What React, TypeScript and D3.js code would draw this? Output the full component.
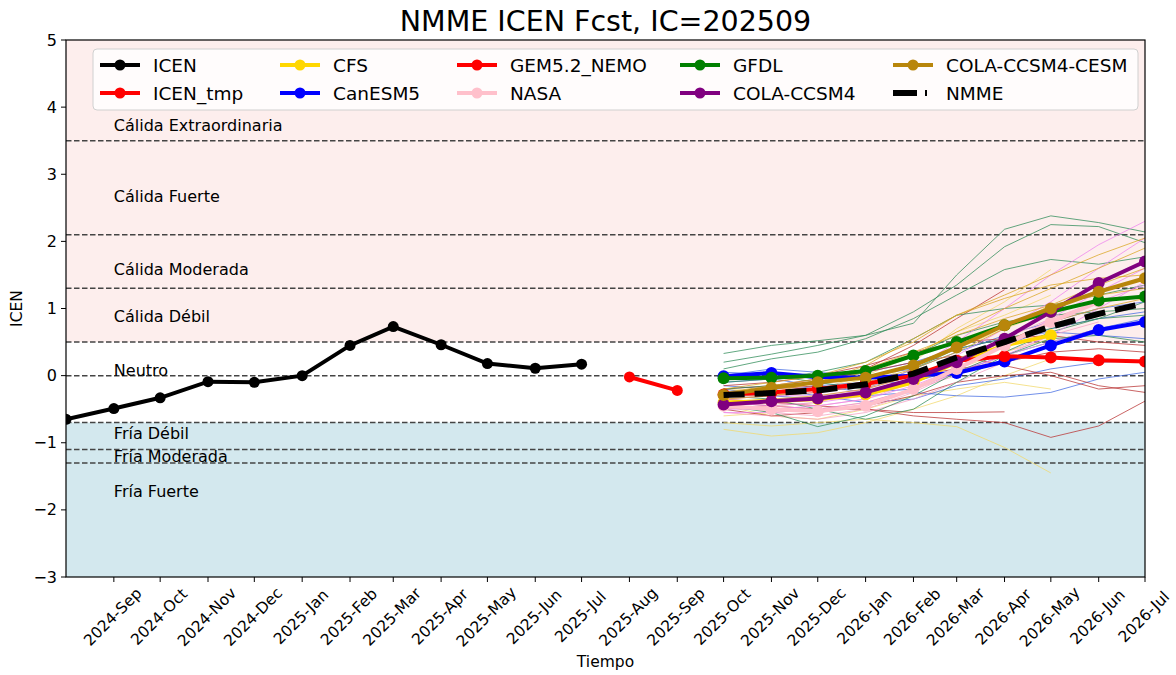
import { FC, useEffect, useRef } from 'react';
import * as d3 from 'd3';

// observed ICEN
const obsMonths = ['2024-08', '2024-09', '2024-10', '2024-11', '2024-12', '2025-01', '2025-02', '2025-03', '2025-04', '2025-05', '2025-06', '2025-07'];
const icenObs = [-0.65, -0.49, -0.33, -0.09, -0.1, 0.0, 0.45, 0.73, 0.46, 0.18, 0.11, 0.17];
const tmpMonths = ['2025-08', '2025-09'];
const icenTmp = [-0.02, -0.22];

// forecast months (IC = 2025-09)
const fcstMonths = ['2025-10', '2025-11', '2025-12', '2026-01', '2026-02', '2026-03', '2026-04', '2026-05', '2026-06', '2026-07'];

// model means
const cfsMean = [-0.4, -0.38, -0.35, -0.28, -0.1, 0.2, 0.45, 0.6];
const canMean = [-0.01, 0.04, -0.02, -0.03, 0.0, 0.04, 0.21, 0.45, 0.68, 0.8];
const gemMean = [-0.28, -0.25, -0.2, -0.12, 0.0, 0.22, 0.29, 0.27, 0.23, 0.21];
const nasaMean = [-0.45, -0.5, -0.53, -0.45, -0.2, 0.1, 0.45, 0.8, 1.1];
const gfdlMean = [-0.04, -0.03, 0.0, 0.07, 0.3, 0.5, 0.75, 0.95, 1.12, 1.18];
const ccsm4Mean = [-0.43, -0.38, -0.34, -0.25, -0.05, 0.2, 0.55, 0.95, 1.38, 1.7];
const cesmMean = [-0.29, -0.18, -0.1, -0.03, 0.15, 0.42, 0.75, 1.0, 1.25, 1.45];
const nmmeMean = [-0.29, -0.26, -0.22, -0.13, 0.03, 0.27, 0.5, 0.73, 0.92, 1.08];

// ensemble members
const cfsMembers = [
  [-0.7, -0.75, -0.7, -0.65, -0.7, -0.76, -1.07, -1.45],
  [-0.8, -0.9, -0.85, -0.7, -0.5, -0.3, 0.0, 0.25],
  [-0.5, -0.45, -0.4, -0.2, 0.2, 0.7, 1.1, 1.58],
  [-0.35, -0.3, -0.2, 0.0, 0.3, 0.65, 0.9, 1.2],
  [-0.6, -0.55, -0.5, -0.4, -0.2, 0.1, 0.35, 0.55],
  [-0.45, -0.6, -0.65, -0.5, -0.3, -0.2, -0.1, -0.2],
  [-0.2, -0.25, -0.2, -0.05, 0.15, 0.4, 0.7, 0.95],
];
const canMembers = [
  [0.0, 0.1, 0.05, 0.0, 0.1, 0.35, 0.6, 0.8, 1.0, 1.1],
  [-0.1, -0.05, -0.15, -0.25, -0.2, 0.05, 0.3, 0.5, 0.7, 0.85],
  [-0.2, -0.3, -0.35, -0.3, -0.25, -0.3, -0.32, -0.25, -0.05, 0.05],
  [0.05, 0.02, -0.05, 0.05, 0.2, 0.4, 0.55, 0.65, 0.6, 0.55],
  [-0.15, -0.2, -0.3, -0.4, -0.35, -0.15, -0.05, 0.1, 0.2, 0.22],
  [-0.3, -0.25, -0.15, -0.1, -0.1, 0.1, 0.45, 0.7, 0.85, 0.95],
];
const gemMembers = [
  [-0.35, -0.4, -0.45, -0.5, -0.6, -0.65, -0.7, -0.92, -0.75, -0.38],
  [-0.25, -0.2, -0.15, 0.1, 0.45, 0.85, 1.28],
  [-0.4, -0.45, -0.5, -0.5, -0.55, -0.55, -0.54],
  [-0.2, -0.15, -0.05, 0.05, 0.2, 0.3, 0.15, 0.0, -0.2, -0.15],
  [-0.3, -0.3, -0.25, -0.15, 0.0, 0.1, 0.2, 0.35, 0.4, 0.35],
  [-0.5, -0.6, -0.55, -0.45, -0.3, -0.1, 0.0, 0.05, -0.15, -0.25],
  [-0.15, -0.1, 0.0, 0.15, 0.35, 0.5, 0.55, 0.6, 0.5, 0.45],
];
const nasaMembers = [
  [-0.4, -0.55, -0.6, -0.5, -0.25, 0.05, 0.35, 0.6, 0.8],
  [-0.55, -0.6, -0.65, -0.55, -0.35, -0.1, 0.2, 0.45, 0.65],
  [-0.35, -0.4, -0.45, -0.35, -0.1, 0.2, 0.55, 0.85, 1.1],
  [-0.5, -0.45, -0.5, -0.45, -0.2, 0.0, 0.3, 0.5, 0.7],
];
const gfdlMembers = [
  [0.33, 0.45, 0.52, 0.6, 0.78, 1.5, 2.18, 2.38, 2.28, 2.14],
  [0.2, 0.32, 0.45, 0.6, 0.95, 1.35, 1.92, 2.25, 2.22, 1.98],
  [0.1, 0.25, 0.35, 0.55, 0.85, 1.2, 1.58, 1.73, 1.66, 1.77],
  [-0.1, -0.05, 0.05, 0.2, 0.55, 0.9, 1.0, 1.05, 1.2, 1.35],
  [-0.2, -0.15, -0.1, 0.05, 0.3, 0.6, 0.8, 0.9, 0.95, 1.0],
  [-0.3, -0.35, -0.5, -0.65, -0.5, -0.1, 0.3, 0.55, 0.6, 0.5],
  [-0.05, 0.0, -0.1, -0.2, 0.1, 0.4, 0.55, 0.7, 0.85, 0.9],
  [-0.45, -0.55, -0.76, -0.6, -0.3, 0.05, 0.35, 0.65, 0.85, 1.1],
];
const ccsm4Members = [
  [-0.45, -0.4, -0.35, -0.2, 0.1, 0.5, 1.0, 1.5, 1.95, 2.3],
  [-0.4, -0.45, -0.4, -0.3, -0.05, 0.3, 0.7, 1.1, 1.6, 2.05],
  [-0.5, -0.5, -0.45, -0.35, -0.15, 0.1, 0.45, 0.85, 1.25, 1.6],
  [-0.35, -0.3, -0.3, -0.2, 0.0, 0.25, 0.5, 0.8, 1.1, 1.35],
  [-0.55, -0.55, -0.5, -0.4, -0.2, 0.05, 0.3, 0.6, 1.0, 1.4],
];
const cesmMembers = [
  [-0.2, -0.1, 0.0, 0.2, 0.5, 0.9, 1.2, 1.5, 1.8, 2.05],
  [-0.3, -0.2, -0.1, 0.05, 0.3, 0.65, 1.0, 1.3, 1.6, 1.9],
  [-0.35, -0.3, -0.2, -0.1, 0.1, 0.35, 0.7, 1.05, 1.35, 1.6],
  [-0.25, -0.15, -0.05, 0.1, 0.35, 0.6, 0.85, 1.05, 1.2, 1.3],
  [-0.4, -0.35, -0.3, -0.2, 0.0, 0.25, 0.5, 0.8, 1.0, 1.15],
  [-0.3, -0.25, -0.1, 0.15, 0.55, 0.9, 1.15, 1.35, 1.45, 1.5],
];

// category thresholds and labels
const thresholds = [3.5, 2.1, 1.3, 0.5, 0, -0.7, -1.1, -1.3];
const categoryLabels = ['Cálida Extraordinaria', 'Cálida Fuerte', 'Cálida Moderada', 'Cálida Débil', 'Neutro', 'Fría Débil', 'Fría Moderada', 'Fría Fuerte'];
const categoryLabelY = [3.73, 2.67, 1.58, 0.88, 0.08, -0.86, -1.21, -1.73];
const yTicks = [-3, -2, -1, 0, 1, 2, 3, 4, 5];

interface Model {
  name: string;
  color: string;
  memberColor: string;
  mean: number[];
  members: number[][];
}

const models: Model[] = [
  { name: 'CFS', color: '#FFD700', memberColor: '#f2d86a', mean: cfsMean, members: cfsMembers },
  { name: 'CanESM5', color: '#0000FF', memberColor: '#4169e1', mean: canMean, members: canMembers },
  { name: 'GEM5.2_NEMO', color: '#FF0000', memberColor: '#b83232', mean: gemMean, members: gemMembers },
  { name: 'NASA', color: '#FFC0CB', memberColor: '#f5a0c0', mean: nasaMean, members: nasaMembers },
  { name: 'GFDL', color: '#008000', memberColor: '#2e8b57', mean: gfdlMean, members: gfdlMembers },
  { name: 'COLA-CCSM4', color: '#800080', memberColor: '#ee82ee', mean: ccsm4Mean, members: ccsm4Members },
  { name: 'COLA-CCSM4-CESM', color: '#B8860B', memberColor: '#daa520', mean: cesmMean, members: cesmMembers },
];

const legendItems = [
  { name: 'ICEN', color: 'black' },
  { name: 'ICEN_tmp', color: '#FF0000' },
  { name: 'CFS', color: '#FFD700' },
  { name: 'CanESM5', color: '#0000FF' },
  { name: 'GEM5.2_NEMO', color: '#FF0000' },
  { name: 'NASA', color: '#FFC0CB' },
  { name: 'GFDL', color: '#008000' },
  { name: 'COLA-CCSM4', color: '#800080' },
  { name: 'COLA-CCSM4-CESM', color: '#B8860B' },
  { name: 'NMME', color: 'black' },
];

const parseMonth = d3.timeParse('%Y-%m');

const App: FC = () => {
  const svgRef = useRef<SVGSVGElement>(null);

  useEffect(() => {
    if (!svgRef.current) return;
    document.body.style.margin = '0';

    const margin = { top: 40, right: 31, bottom: 98, left: 66 };
    const W = 1176;
    const H = 675;
    const width = W - margin.left - margin.right;
    const height = H - margin.top - margin.bottom;
    const font = 'DejaVu Sans, sans-serif';

    d3.select(svgRef.current).selectAll('*').remove();
    const root = d3.select(svgRef.current);
    root.append('rect').attr('width', W).attr('height', H).attr('fill', 'white');

    const svg = root.append('g').attr('transform', `translate(${margin.left},${margin.top})`);

    const x = d3
      .scaleTime()
      .domain([parseMonth('2024-08') as Date, parseMonth('2026-07') as Date])
      .range([0, width]);
    const y = d3.scaleLinear().domain([-3, 5]).range([height, 0]);

    svg.append('clipPath').attr('id', 'plotclip')
      .append('rect').attr('width', width).attr('height', height);

    // background bands
    svg.append('rect').attr('x', 0).attr('width', width)
      .attr('y', y(5)).attr('height', y(0.5) - y(5)).attr('fill', '#fdeeed');
    svg.append('rect').attr('x', 0).attr('width', width)
      .attr('y', y(-0.7)).attr('height', y(-3) - y(-0.7)).attr('fill', '#d3e8ee');

    // threshold lines
    svg.selectAll('.thr').data(thresholds).enter().append('line')
      .attr('x1', 0).attr('x2', width)
      .attr('y1', d => y(d)).attr('y2', d => y(d))
      .attr('stroke', '#444').attr('stroke-width', 1.5).attr('stroke-dasharray', '5.5,2.5');

    // category labels
    svg.selectAll('.cat').data(categoryLabels).enter().append('text')
      .attr('x', x(parseMonth('2024-09') as Date))
      .attr('y', (_, i) => y(categoryLabelY[i]))
      .attr('dominant-baseline', 'central')
      .attr('font-family', font).attr('font-size', 16)
      .text(d => d);

    const plot = svg.append('g').attr('clip-path', 'url(#plotclip)');
    const fDates = fcstMonths.map(m => parseMonth(m) as Date);
    const line = d3.line<number>().x((_, i) => x(fDates[i])).y(d => y(d));

    // ensemble members
    models.forEach(m => {
      m.members.forEach(mem => {
        plot.append('path').datum(mem).attr('d', line)
          .attr('fill', 'none').attr('stroke', m.memberColor)
          .attr('stroke-width', 1).attr('stroke-opacity', 0.75);
      });
    });

    // model means
    models.forEach(m => {
      plot.append('path').datum(m.mean).attr('d', line)
        .attr('fill', 'none').attr('stroke', m.color).attr('stroke-width', 4);
      plot.selectAll(null).data(m.mean).enter().append('circle')
        .attr('cx', (_, i) => x(fDates[i])).attr('cy', d => y(d))
        .attr('r', 6).attr('fill', m.color);
    });

    // NMME
    plot.append('path').datum(nmmeMean).attr('d', line)
      .attr('fill', 'none').attr('stroke', 'black').attr('stroke-width', 6)
      .attr('stroke-dasharray', '21,10');

    // observations
    const obsDates = obsMonths.map(m => parseMonth(m) as Date);
    const obsLine = d3.line<number>().x((_, i) => x(obsDates[i])).y(d => y(d));
    plot.append('path').datum(icenObs).attr('d', obsLine)
      .attr('fill', 'none').attr('stroke', 'black').attr('stroke-width', 4);
    plot.selectAll(null).data(icenObs).enter().append('circle')
      .attr('cx', (_, i) => x(obsDates[i])).attr('cy', d => y(d))
      .attr('r', 5.5).attr('fill', 'black');

    const tmpDates = tmpMonths.map(m => parseMonth(m) as Date);
    const tmpLine = d3.line<number>().x((_, i) => x(tmpDates[i])).y(d => y(d));
    plot.append('path').datum(icenTmp).attr('d', tmpLine)
      .attr('fill', 'none').attr('stroke', '#FF0000').attr('stroke-width', 4);
    plot.selectAll(null).data(icenTmp).enter().append('circle')
      .attr('cx', (_, i) => x(tmpDates[i])).attr('cy', d => y(d))
      .attr('r', 5.5).attr('fill', '#FF0000');

    // frame
    svg.append('rect').attr('width', width).attr('height', height)
      .attr('fill', 'none').attr('stroke', 'black').attr('stroke-width', 1.2);

    // y axis
    const yAxis = svg.append('g');
    yAxis.selectAll('line').data(yTicks).enter().append('line')
      .attr('x1', -5).attr('x2', 0).attr('y1', d => y(d)).attr('y2', d => y(d))
      .attr('stroke', 'black').attr('stroke-width', 1);
    yAxis.selectAll('text').data(yTicks).enter().append('text')
      .attr('x', -9).attr('y', d => y(d)).attr('text-anchor', 'end')
      .attr('dominant-baseline', 'central')
      .attr('font-family', font).attr('font-size', 16)
      .text(d => (d < 0 ? '\u2212' + Math.abs(d) : String(d)));
    svg.append('text')
      .attr('transform', `translate(${-49},${height / 2}) rotate(-90)`)
      .attr('text-anchor', 'middle').attr('dominant-baseline', 'central')
      .attr('font-family', font).attr('font-size', 15.5).text('ICEN');

    // x axis
    const xTicks = d3.timeMonth.range(parseMonth('2024-09') as Date, d3.timeMonth.offset(parseMonth('2026-07') as Date, 1));
    const fmt = d3.timeFormat('%Y-%b');
    const xAxis = svg.append('g').attr('transform', `translate(0,${height})`);
    xAxis.selectAll('line').data(xTicks).enter().append('line')
      .attr('x1', d => x(d)).attr('x2', d => x(d)).attr('y1', 0).attr('y2', 5)
      .attr('stroke', 'black').attr('stroke-width', 1);
    xAxis.selectAll('text').data(xTicks).enter().append('text')
      .attr('transform', d => `translate(${x(d) - 1},${40}) rotate(-45)`)
      .attr('text-anchor', 'middle').attr('dominant-baseline', 'central')
      .attr('font-family', font).attr('font-size', 15.5)
      .text(d => fmt(d));
    svg.append('text')
      .attr('x', width / 2).attr('y', height + 85)
      .attr('text-anchor', 'middle').attr('dominant-baseline', 'central')
      .attr('font-family', font).attr('font-size', 15.5).text('Tiempo');

    // title
    root.append('text')
      .attr('x', margin.left + width / 2).attr('y', 21)
      .attr('text-anchor', 'middle').attr('dominant-baseline', 'central')
      .attr('font-family', font).attr('font-size', 28.5).text('NMME ICEN Fcst, IC=202509');

    // legend
    const legend = root.append('g');
    legend.append('rect').attr('x', 93).attr('y', 49).attr('width', 1045).attr('height', 61)
      .attr('rx', 4).attr('fill', 'white').attr('fill-opacity', 0.8)
      .attr('stroke', '#d0d0d0').attr('stroke-width', 1);
    const colX = [100, 280, 457, 680, 893];
    const rowY = [65, 93];
    legendItems.forEach((item, i) => {
      const cx = colX[Math.floor(i / 2)];
      const cy = rowY[i % 2];
      const g = legend.append('g');
      if (item.name === 'NMME') {
        g.append('line').attr('x1', cx).attr('x2', cx + 24).attr('y1', cy).attr('y2', cy)
          .attr('stroke', 'black').attr('stroke-width', 6);
        g.append('line').attr('x1', cx + 32).attr('x2', cx + 34).attr('y1', cy).attr('y2', cy)
          .attr('stroke', 'black').attr('stroke-width', 6);
      } else {
        g.append('line').attr('x1', cx).attr('x2', cx + 40).attr('y1', cy).attr('y2', cy)
          .attr('stroke', item.color).attr('stroke-width', 4);
        g.append('circle').attr('cx', cx + 20).attr('cy', cy).attr('r', 5.5).attr('fill', item.color);
      }
      g.append('text').attr('x', cx + 53).attr('y', cy)
        .attr('dominant-baseline', 'central')
        .attr('font-family', font).attr('font-size', 18.5).text(item.name);
    });
  }, []);

  return <svg ref={svgRef} width={1176} height={675} style={{ display: 'block' }} />;
};

export default App;
